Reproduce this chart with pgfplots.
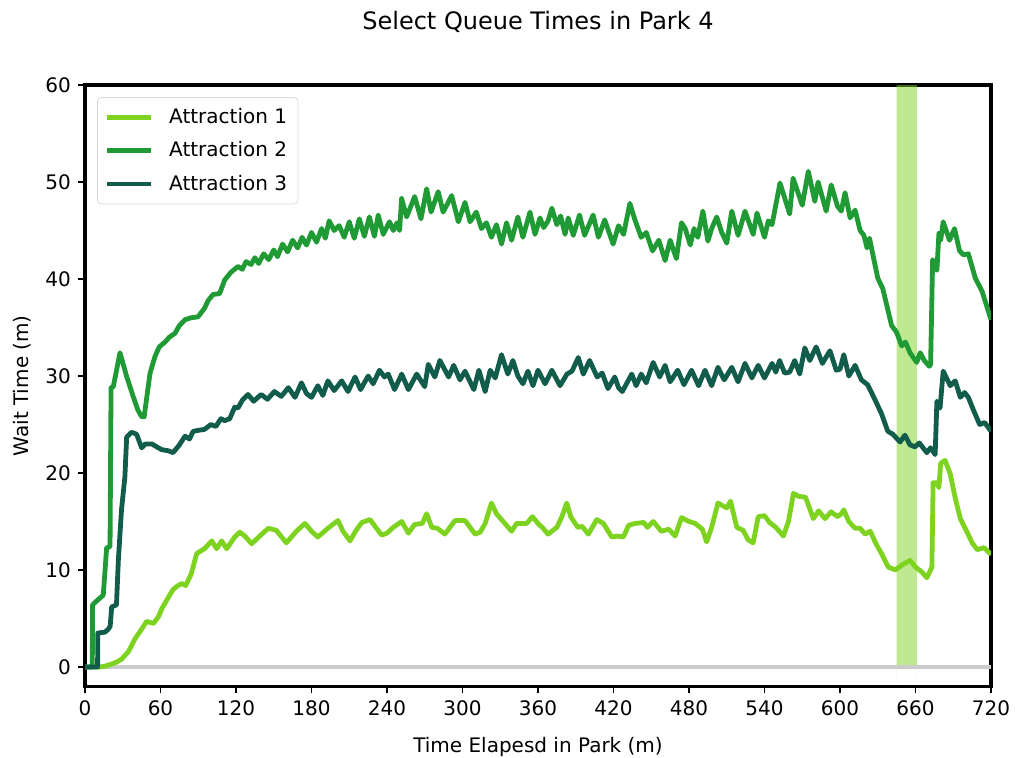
\documentclass[border=0pt]{standalone}
\usepackage{fontspec}
\setmainfont{DejaVu Sans}
\usepackage{pgfplots}
\pgfplotsset{compat=1.18}
\definecolor{cA}{HTML}{7ED321}
\definecolor{cB}{HTML}{1F9A34}
\definecolor{cC}{HTML}{115C4B}
\definecolor{cZ}{HTML}{CCCCCC}
\begin{document}
\begin{tikzpicture}
\useasboundingbox (0,0) rectangle (507.5pt,378.5pt);
\begin{axis}[
 at={(42.5pt,35.3pt)}, anchor=south west,
 scale only axis, width=453pt, height=300.7pt,
 xmin=0, xmax=720, ymin=-2, ymax=60,
 xtick={0,60,...,720}, ytick={0,10,...,60},
 xtick pos=bottom, ytick pos=left,
 tick align=outside, major tick length=3.5pt,
 every tick/.style={black, line width=0.9pt},
 axis line style={line width=1.6pt},
 ticklabel style={font=\fontsize{10}{12}\selectfont},
 /pgf/number format/assume math mode=true,
 xlabel={Time Elapesd in Park (m)}, ylabel={Wait Time (m)},
 xlabel style={font=\fontsize{10}{12}\selectfont, at={(0.5,0)}, anchor=center, yshift=-30.5pt},
 ylabel style={font=\fontsize{10}{12}\selectfont, at={(0,0.5)}, anchor=center, yshift=31.5pt},
 title={Select Queue Times in Park 4},
 title style={font=\fontsize{12}{14}\selectfont, at={(0.5,1)}, anchor=center, yshift=25.5pt},
 legend style={at={(0,1)}, anchor=north west, xshift=6pt, yshift=-6pt, draw=black!15, rounded corners=2pt, font=\fontsize{10}{12}\selectfont, inner sep=3.5pt, row sep=3.5pt},
 legend cell align=left,
 legend image code/.code={\draw[#1] (0pt,0pt) -- (22pt,0pt); \path (28pt,0pt);},
 every axis plot/.append style={line width=2.4pt, line join=round},
 clip mode=individual,
]
\addplot[draw=none, fill=cA, fill opacity=0.5, forget plot] coordinates {(645,-2)(645,60)(661,60)(661,-2)} \closedcycle;
\addplot[cZ, line width=2pt, forget plot] coordinates {(0,0)(720,0)};

\addplot[cA] coordinates {
(0,0)(10,0)(15,0.05)(21,0.3)(25,0.5)(29,0.8)(34.6,1.6)(39.7,2.9)(45,3.9)(49,4.7)(54.4,4.5)(58.4,5.2)(61,6)(65,6.9)(70,8.0)(74,8.4)(77,8.6)(80,8.4)(84.4,9.6)(88.8,11.7)(95,12.2)(100.7,13.0)(104.6,12.2)(108.6,13.0)(112.6,12.2)(119,13.4)(123,13.9)(127,13.5)(132.5,12.7)(138,13.4)(145.7,14.3)(152,14.1)(160,12.8)(168,14.0)(174.8,14.8)(180,14.0)(185,13.4)(193,14.3)(201,15.1)(205,14.0)(210.6,13.0)(215,14.0)(220,14.9)(226.5,15.2)(235.7,13.6)(240,13.8)(245,14.4)(251.7,15.0)(257,13.8)(262,14.7)(268,14.8)(271.5,15.8)(275.6,14.4)(280,14.3)(286,13.7)(294,15.1)(302,15.1)(310,13.7)(314,13.9)(318,14.8)(323,16.9)(327,15.8)(331,15.2)(339,14.0)(343,14.8)(351,14.8)(355.6,15.5)(360,14.8)(364,14.3)(368,13.7)(375,14.4)(379,15.5)(382.8,16.9)(386,15.5)(391.6,14.4)(395,14.5)(400,13.7)(406.7,15.2)(412,14.8)(418.6,13.4)(423,13.5)(427.8,13.4)(432,14.6)(437,14.8)(444,14.9)(447,14.4)(451.6,15.0)(458,14.0)(464,14.2)(469,13.5)(474,15.4)(480,15.0)(485,14.8)(490.6,14.2)(494,12.9)(498,14.4)(503,16.9)(510,16.4)(513,17.1)(518,14.4)(523,14.1)(527,13.1)(531,12.8)(535,15.5)(540,15.6)(544,14.9)(549,14.4)(555,13.5)(559,15.0)(563,17.9)(567,17.6)(572.6,17.5)(578.8,15.3)(583,16.1)(588,15.3)(593,16.0)(598,15.5)(601,15.8)(603,16.2)(607,15.0)(612,14.3)(616,14.3)(620,13.7)(624,14.0)(629,12.6)(633,11.7)(638.4,10.3)(644,10.0)(649,10.5)(655.6,11.0)(660,10.3)(665,9.8)(669,9.2)(673,10.3)(674,19.0)(677,19.0)(678.6,18.5)(680,21.0)(683.5,21.3)(687.6,19.9)(691.6,17.4)(695.6,15.3)(701,13.9)(705,12.8)(709,12.1)(714.6,12.3)(720,11.6)
};
\addlegendentry{Attraction 1}

\addplot[cB] coordinates {
(0,0)(5.8,0)(6,6.4)(10,6.9)(14.5,7.4)(17.2,12.3)(19.9,12.4)(20.7,28.8)(22.5,28.9)(27.8,32.4)(33,30)(38,28)(42,26.5)(45,25.8)(47,25.8)(51.7,30.3)(55.6,32.0)(59,33)(63.6,33.5)(67,34)(71.5,34.4)(75,35.2)(79.5,35.8)(84,36)(89.8,36.1)(95,37.0)(98,37.8)(101.7,38.4)(107,38.5)(111,39.9)(116,40.7)(121.6,41.3)(125,41.0)(128,41.8)(132,41.5)(135,42.2)(138,41.6)(142,42.6)(146,42.0)(150,43.0)(153,42.3)(157,43.6)(161,42.8)(165,44.0)(169,43.2)(172.5,44.3)(176,43.5)(180,44.8)(184,43.8)(188,45.2)(191,44.2)(194,46.0)(198,45.0)(202,45.5)(206,44.3)(210,45.9)(214,44.2)(218,46.2)(222,44.4)(226,46.4)(230,44.4)(233,46.6)(237,44.6)(242,45.9)(245,45.0)(248,45.8)(250,45.0)(251.6,48.3)(255.6,46.4)(262,48.5)(267,46.2)(271.5,49.3)(275,46.9)(280.7,49.0)(284.6,46.9)(291.4,48.6)(296.7,45.9)(302,47.9)(306,45.9)(311,46.9)(315,45.2)(319,45.8)(323,44.3)(327,45.6)(331,43.6)(335,45.8)(339,44)(344,46.4)(348,44.3)(353.6,46.9)(357.6,44.6)(361.6,46.3)(364.5,45.3)(368,46.0)(371,47.3)(375,45.6)(378,46.5)(381.5,44.6)(384,46.3)(388,44.5)(393,46.6)(397,44.5)(403.8,46.6)(408,44.3)(413,46.1)(419.7,43.6)(424,45.5)(428,44.6)(433,47.8)(437,46.1)(442,44.3)(446,44.8)(451,42.9)(456,44.0)(461,41.9)(465,44.0)(470,42.1)(474,45.8)(477,45.2)(481,43.5)(484,45.2)(487,44.3)(491,47.0)(495,43.9)(498,45.2)(502,46.4)(506,44.8)(510,43.7)(514,47.0)(519,44.5)(524.5,47.0)(531,44.6)(534,46.8)(540,44.3)(543,46.0)(546,45.6)(552.3,49.9)(560,46.7)(562.7,50.4)(570,47.6)(574.8,51.1)(580,48.0)(582.6,50.0)(589,47.0)(593,49.7)(598,47.5)(601,47.0)(604,48.9)(608,46.3)(612,47.1)(616,45.0)(619,44.5)(621.5,43.2)(623.5,44.2)(625.5,42.9)(630,40.1)(634,39.0)(641,35.2)(645,34.5)(649,33.1)(652,33.5)(655.6,32.4)(661,31.4)(663.7,32.4)(667,31.6)(671,31.0)(672,31.2)(673.6,42.0)(677,40.9)(678.6,44.7)(680,44.0)(682,45.9)(687,44.0)(691,45.2)(695,42.9)(698,42.5)(702,42.6)(707.5,40.1)(713,38.7)(720,35.8)
};
\addlegendentry{Attraction 2}

\addplot[cC] coordinates {
(0,0)(10,0)(10.2,3.5)(15.9,3.6)(18.5,3.9)(20,4.2)(21.2,6.2)(25,6.4)(26.5,11.0)(29,16.2)(31.7,19.6)(33.1,23.7)(37,24.2)(41,24.0)(45,22.6)(48,23.0)(53,23.0)(57,22.7)(61,22.4)(66,22.3)(70,22.1)(75,22.9)(79.5,23.8)(83,23.5)(86,24.3)(90,24.4)(95,24.5)(100,25.0)(104,24.8)(108,25.6)(111,25.4)(115,25.6)(119,26.8)(121.6,26.7)(125,27.5)(129.5,28.1)(134,27.4)(140,28.1)(145,27.6)(150.5,28.4)(156,27.9)(161.6,28.8)(166.9,27.8)(172,29.3)(176,28.2)(180,27.8)(185,29.0)(189,28.0)(193,29.5)(198,28.5)(204,29.5)(209,28.4)(214.6,29.9)(219,28.6)(225,30.0)(229,29.2)(234,30.6)(238,29.9)(241,30.2)(246,28.6)(251.7,30.2)(257,28.6)(263.6,30.2)(270,28.9)(272.8,31.2)(278,29.9)(282,31.6)(289,29.9)(293,31.1)(298,29.6)(302,30.5)(309,28.6)(313,30.6)(318,28.4)(322,30.6)(326,29.8)(331,32.2)(336,30.2)(340,31.6)(344,30.0)(348,29.2)(352,30.5)(356,29.0)(360,30.6)(365.6,29.2)(371,30.6)(377.5,29.0)(383,30.2)(387,30.5)(392,31.9)(396,30.2)(401,31.6)(407,29.9)(411,30.3)(415.6,28.7)(421,29.9)(424,28.8)(427,28.4)(434.5,30.2)(438,29.0)(442,30.2)(446,29.3)(451.5,31.4)(456.7,29.9)(461,31.1)(465,29.4)(471,30.6)(476,29.1)(482,30.6)(487.6,29.0)(492.7,30.6)(498,29.0)(503,30.9)(508,29.6)(514,30.9)(519,29.4)(524.5,31.3)(530,29.8)(535,31.1)(540,29.8)(546,31.3)(549,30.4)(552,31.6)(556,30.3)(560,30.4)(564,31.6)(568,30.2)(572,32.9)(576,31.6)(581,33.0)(586,31.3)(592,32.6)(597,30.6)(600,30.7)(603,32.2)(607,30.0)(612,31.1)(617,29.6)(622,29.1)(628,27.5)(633,26.1)(638,24.3)(642,24.0)(647.7,23.2)(651.6,23.9)(655.6,22.9)(659.6,22.7)(663,23.1)(669,22.1)(672,22.6)(675.6,21.9)(677,27.4)(679.5,26.7)(682,30.5)(687.6,29.0)(691.6,29.5)(695.6,27.8)(699,28.3)(702,27.8)(706,26.5)(711,25.0)(715,25.2)(720,24.3)
};
\addlegendentry{Attraction 3}
\end{axis}
\end{tikzpicture}
\end{document}
